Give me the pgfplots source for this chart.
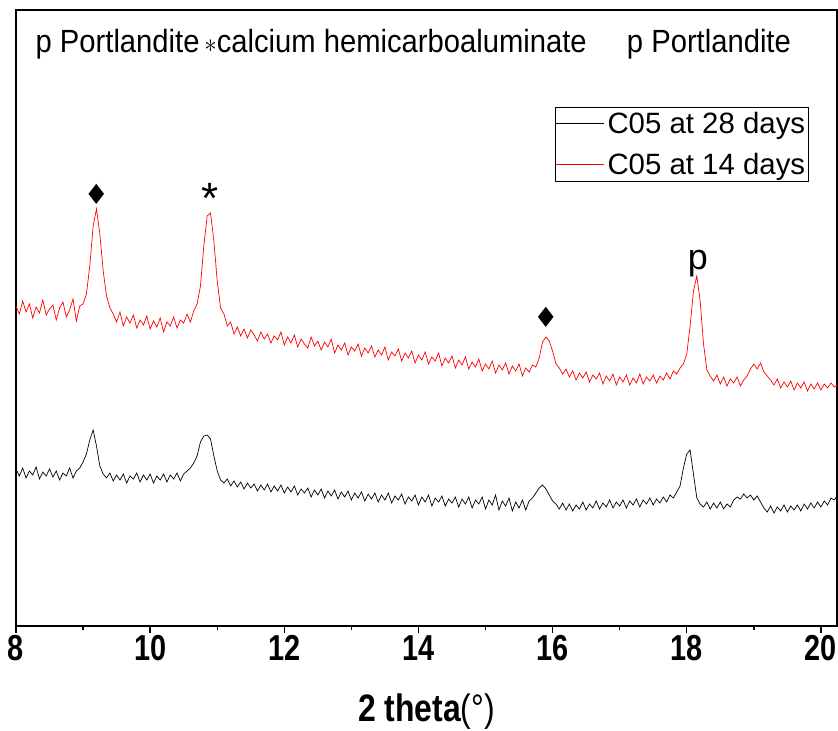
\documentclass[border=0pt]{standalone}
\usepackage{pgfplots}
\pgfplotsset{compat=1.18}
\usepackage{pgfplotstable}
\usepackage{graphicx}
\usepackage{fontspec}
\setmainfont{Liberation Sans}
\newfontfamily\dejavu{DejaVu Sans}
\pgfplotstableread{
x y
8.00 320
8.05 312
8.10 325
8.15 314
8.20 322
8.25 308
8.30 319
8.35 313
8.40 326
8.45 311
8.50 317
8.55 321
8.60 306
8.65 318
8.70 324
8.75 309
8.80 316
8.85 327
8.90 305
8.95 320
9.00 322
9.05 332
9.10 360
9.15 400
9.20 417
9.25 392
9.30 355
9.35 330
9.40 318
9.45 312
9.50 304
9.55 314
9.60 300
9.65 309
9.70 303
9.75 311
9.80 298
9.85 306
9.90 301
9.95 310
10.00 297
10.05 305
10.10 299
10.15 308
10.20 294
10.25 304
10.30 300
10.35 309
10.40 298
10.45 306
10.50 303
10.55 312
10.60 304
10.65 315
10.70 322
10.75 340
10.80 380
10.85 410
10.90 413
10.95 385
11.00 345
11.05 318
11.10 312
11.15 300
11.20 304
11.25 292
11.30 299
11.35 290
11.40 297
11.45 288
11.50 296
11.55 291
11.60 285
11.65 294
11.70 287
11.75 292
11.80 283
11.85 290
11.90 286
11.95 294
12.00 281
12.05 289
12.10 283
12.15 291
12.20 279
12.25 287
12.30 282
12.35 278
12.40 289
12.45 280
12.50 285
12.55 276
12.60 284
12.65 279
12.70 287
12.75 273
12.80 281
12.85 276
12.90 283
12.95 271
13.00 279
13.05 275
13.10 282
13.15 270
13.20 278
13.25 273
13.30 280
13.35 269
13.40 276
13.45 271
13.50 279
13.55 266
13.60 274
13.65 270
13.70 277
13.75 265
13.80 273
13.85 268
13.90 275
13.95 263
14.00 271
14.05 266
14.10 274
14.15 262
14.20 269
14.25 265
14.30 273
14.35 260
14.40 268
14.45 263
14.50 270
14.55 258
14.60 266
14.65 261
14.70 269
14.75 257
14.80 264
14.85 259
14.90 267
14.95 255
15.00 262
15.05 257
15.10 265
15.15 253
15.20 261
15.25 256
15.30 263
15.35 252
15.40 260
15.45 255
15.50 262
15.55 250
15.60 258
15.65 254
15.70 261
15.75 259
15.80 268
15.85 284
15.90 289
15.95 285
16.00 275
16.05 262
16.10 258
16.15 252
16.20 257
16.25 249
16.30 255
16.35 246
16.40 253
16.45 248
16.50 254
16.55 244
16.60 251
16.65 247
16.70 253
16.75 242
16.80 250
16.85 245
16.90 252
16.95 241
17.00 249
17.05 244
17.10 251
17.15 241
17.20 248
17.25 243
17.30 252
17.35 242
17.40 249
17.45 245
17.50 251
17.55 243
17.60 250
17.65 246
17.70 253
17.75 247
17.80 255
17.85 252
17.90 258
17.95 262
18.00 272
18.05 300
18.10 335
18.15 350
18.20 325
18.25 282
18.30 256
18.35 250
18.40 245
18.45 251
18.50 242
18.55 249
18.60 240
18.65 247
18.70 243
18.75 249
18.80 240
18.85 246
18.90 250
18.95 257
19.00 262
19.05 257
19.10 263
19.15 254
19.20 250
19.25 246
19.30 241
19.35 247
19.40 238
19.45 244
19.50 239
19.55 245
19.60 236
19.65 243
19.70 238
19.75 244
19.80 235
19.85 242
19.90 237
19.95 243
20.00 236
20.05 242
20.10 238
20.15 243
20.20 239
20.24 241
}\redtable
\pgfplotstableread{
x y
8.00 157
8.05 150
8.10 158
8.15 148
8.20 155
8.25 151
8.30 159
8.35 147
8.40 154
8.45 150
8.50 157
8.55 149
8.60 155
8.65 146
8.70 153
8.75 150
8.80 158
8.85 148
8.90 155
8.95 158
9.00 164
9.05 172
9.10 186
9.15 196
9.20 180
9.25 160
9.30 152
9.35 148
9.40 153
9.45 145
9.50 151
9.55 146
9.60 152
9.65 143
9.70 150
9.75 147
9.80 153
9.85 144
9.90 151
9.95 146
10.00 152
10.05 143
10.10 150
10.15 146
10.20 152
10.25 144
10.30 151
10.35 147
10.40 153
10.45 145
10.50 152
10.55 155
10.60 158
10.65 163
10.70 170
10.75 184
10.80 190
10.85 191
10.90 187
10.95 170
11.00 155
11.05 146
11.10 143
11.15 147
11.20 140
11.25 145
11.30 139
11.35 144
11.40 137
11.45 143
11.50 138
11.55 142
11.60 135
11.65 141
11.70 136
11.75 142
11.80 134
11.85 140
11.90 135
11.95 141
12.00 133
12.05 139
12.10 134
12.15 140
12.20 131
12.25 137
12.30 133
12.35 138
12.40 129
12.45 136
12.50 131
12.55 137
12.60 128
12.65 135
12.70 130
12.75 136
12.80 127
12.85 134
12.90 129
12.95 135
13.00 126
13.05 133
13.10 128
13.15 134
13.20 125
13.25 132
13.30 127
13.35 133
13.40 124
13.45 131
13.50 126
13.55 133
13.60 123
13.65 130
13.70 126
13.75 132
13.80 122
13.85 129
13.90 125
13.95 131
14.00 121
14.05 129
14.10 124
14.15 131
14.20 120
14.25 128
14.30 124
14.35 130
14.40 120
14.45 127
14.50 123
14.55 129
14.60 119
14.65 127
14.70 122
14.75 129
14.80 118
14.85 126
14.90 122
14.95 129
15.00 117
15.05 126
15.10 121
15.15 131
15.20 116
15.25 125
15.30 120
15.35 128
15.40 115
15.45 124
15.50 118
15.55 126
15.60 116
15.65 125
15.70 128
15.75 133
15.80 138
15.85 141
15.90 137
15.95 131
16.00 125
16.05 122
16.10 117
16.15 123
16.20 116
16.25 122
16.30 115
16.35 121
16.40 117
16.45 124
16.50 116
16.55 122
16.60 118
16.65 125
16.70 117
16.75 123
16.80 119
16.85 126
16.90 118
16.95 124
17.00 120
17.05 126
17.10 118
17.15 125
17.20 121
17.25 127
17.30 119
17.35 126
17.40 122
17.45 128
17.50 121
17.55 127
17.60 123
17.65 129
17.70 124
17.75 131
17.80 128
17.85 134
17.90 140
17.95 158
18.00 172
18.05 176
18.10 152
18.15 128
18.20 122
18.25 119
18.30 124
18.35 117
18.40 123
18.45 118
18.50 124
18.55 117
18.60 122
18.65 119
18.70 126
18.75 129
18.80 127
18.85 132
18.90 128
18.95 131
19.00 126
19.05 130
19.10 124
19.15 118
19.20 114
19.25 120
19.30 113
19.35 119
19.40 115
19.45 121
19.50 114
19.55 120
19.60 116
19.65 121
19.70 115
19.75 122
19.80 117
19.85 123
19.90 118
19.95 124
20.00 119
20.05 125
20.10 121
20.15 128
20.20 126
20.24 130
}\blacktable
\begin{document}
\begin{tikzpicture}
\useasboundingbox (-16bp,-105bp) rectangle (822bp,626bp);
\begin{axis}[
  scale only axis,
  width=821bp, height=616bp,
  xmin=8, xmax=20.24, ymin=0, ymax=616,
  axis line style={line width=1.6bp},
  xtick={8,10,...,20},
  minor x tick num=1,
  xtick pos=bottom,
  ytick=\empty,
  tick align=outside,
  major tick length=7bp,
  minor tick length=4bp,
  every tick/.style={black, line width=1.4bp},
  /pgf/number format/assume math mode=true,
  xticklabel={\scalebox{1}[1.25]{\bfseries\fontsize{29}{29}\selectfont\pgfmathprintnumber{\tick}}},
  xticklabel style={yshift=1bp},
  xlabel={\scalebox{1}[1.2]{\textbf{2 theta}(°)}},
  xlabel style={font=\fontsize{32}{32}\selectfont, yshift=-26bp},
  legend cell align=left,
  legend style={at={(rel axis cs:0.9659,0.8425)}, anchor=north east,
    draw=black, line width=0.6bp, inner xsep=0pt, inner ysep=5bp,
    font=\fontsize{29.5}{30}\selectfont, row sep=18bp,
    nodes={inner xsep=3.5bp, inner ysep=0bp}},
  legend image code/.code={\draw[#1, line width=0.9bp] (0bp,0bp) -- (48bp,0bp);},
  clip=true,
]
\addplot[black, line width=0.7bp] table[x=x,y=y] {\blacktable};
\addlegendentry{C05 at 28 days}
\addplot[red, line width=0.7bp] table[x=x,y=y] {\redtable};
\addlegendentry{C05 at 14 days}
\node[anchor=base west, inner sep=0pt, font=\fontsize{29.3}{29}\selectfont] at (axis cs:8.29,573) {\scalebox{1}[1.1]{p Portlandite\,$\ast$calcium hemicarboaluminate}};
\node[anchor=base west, inner sep=0pt, font=\fontsize{29.3}{29}\selectfont] at (axis cs:17.106,573) {\scalebox{1}[1.1]{p Portlandite}};
\node[inner sep=0pt, font=\dejavu\fontsize{28}{28}\selectfont] at (axis cs:9.20,432) {♦};
\node[inner sep=0pt, font=\fontsize{44}{44}\selectfont] at (axis cs:10.886,428) {*};
\node[inner sep=0pt, font=\dejavu\fontsize{28}{28}\selectfont] at (axis cs:15.90,309) {♦};
\node[inner sep=0pt, font=\fontsize{36}{36}\selectfont] at (axis cs:18.165,362) {p};
\end{axis}
\end{tikzpicture}
\end{document}
